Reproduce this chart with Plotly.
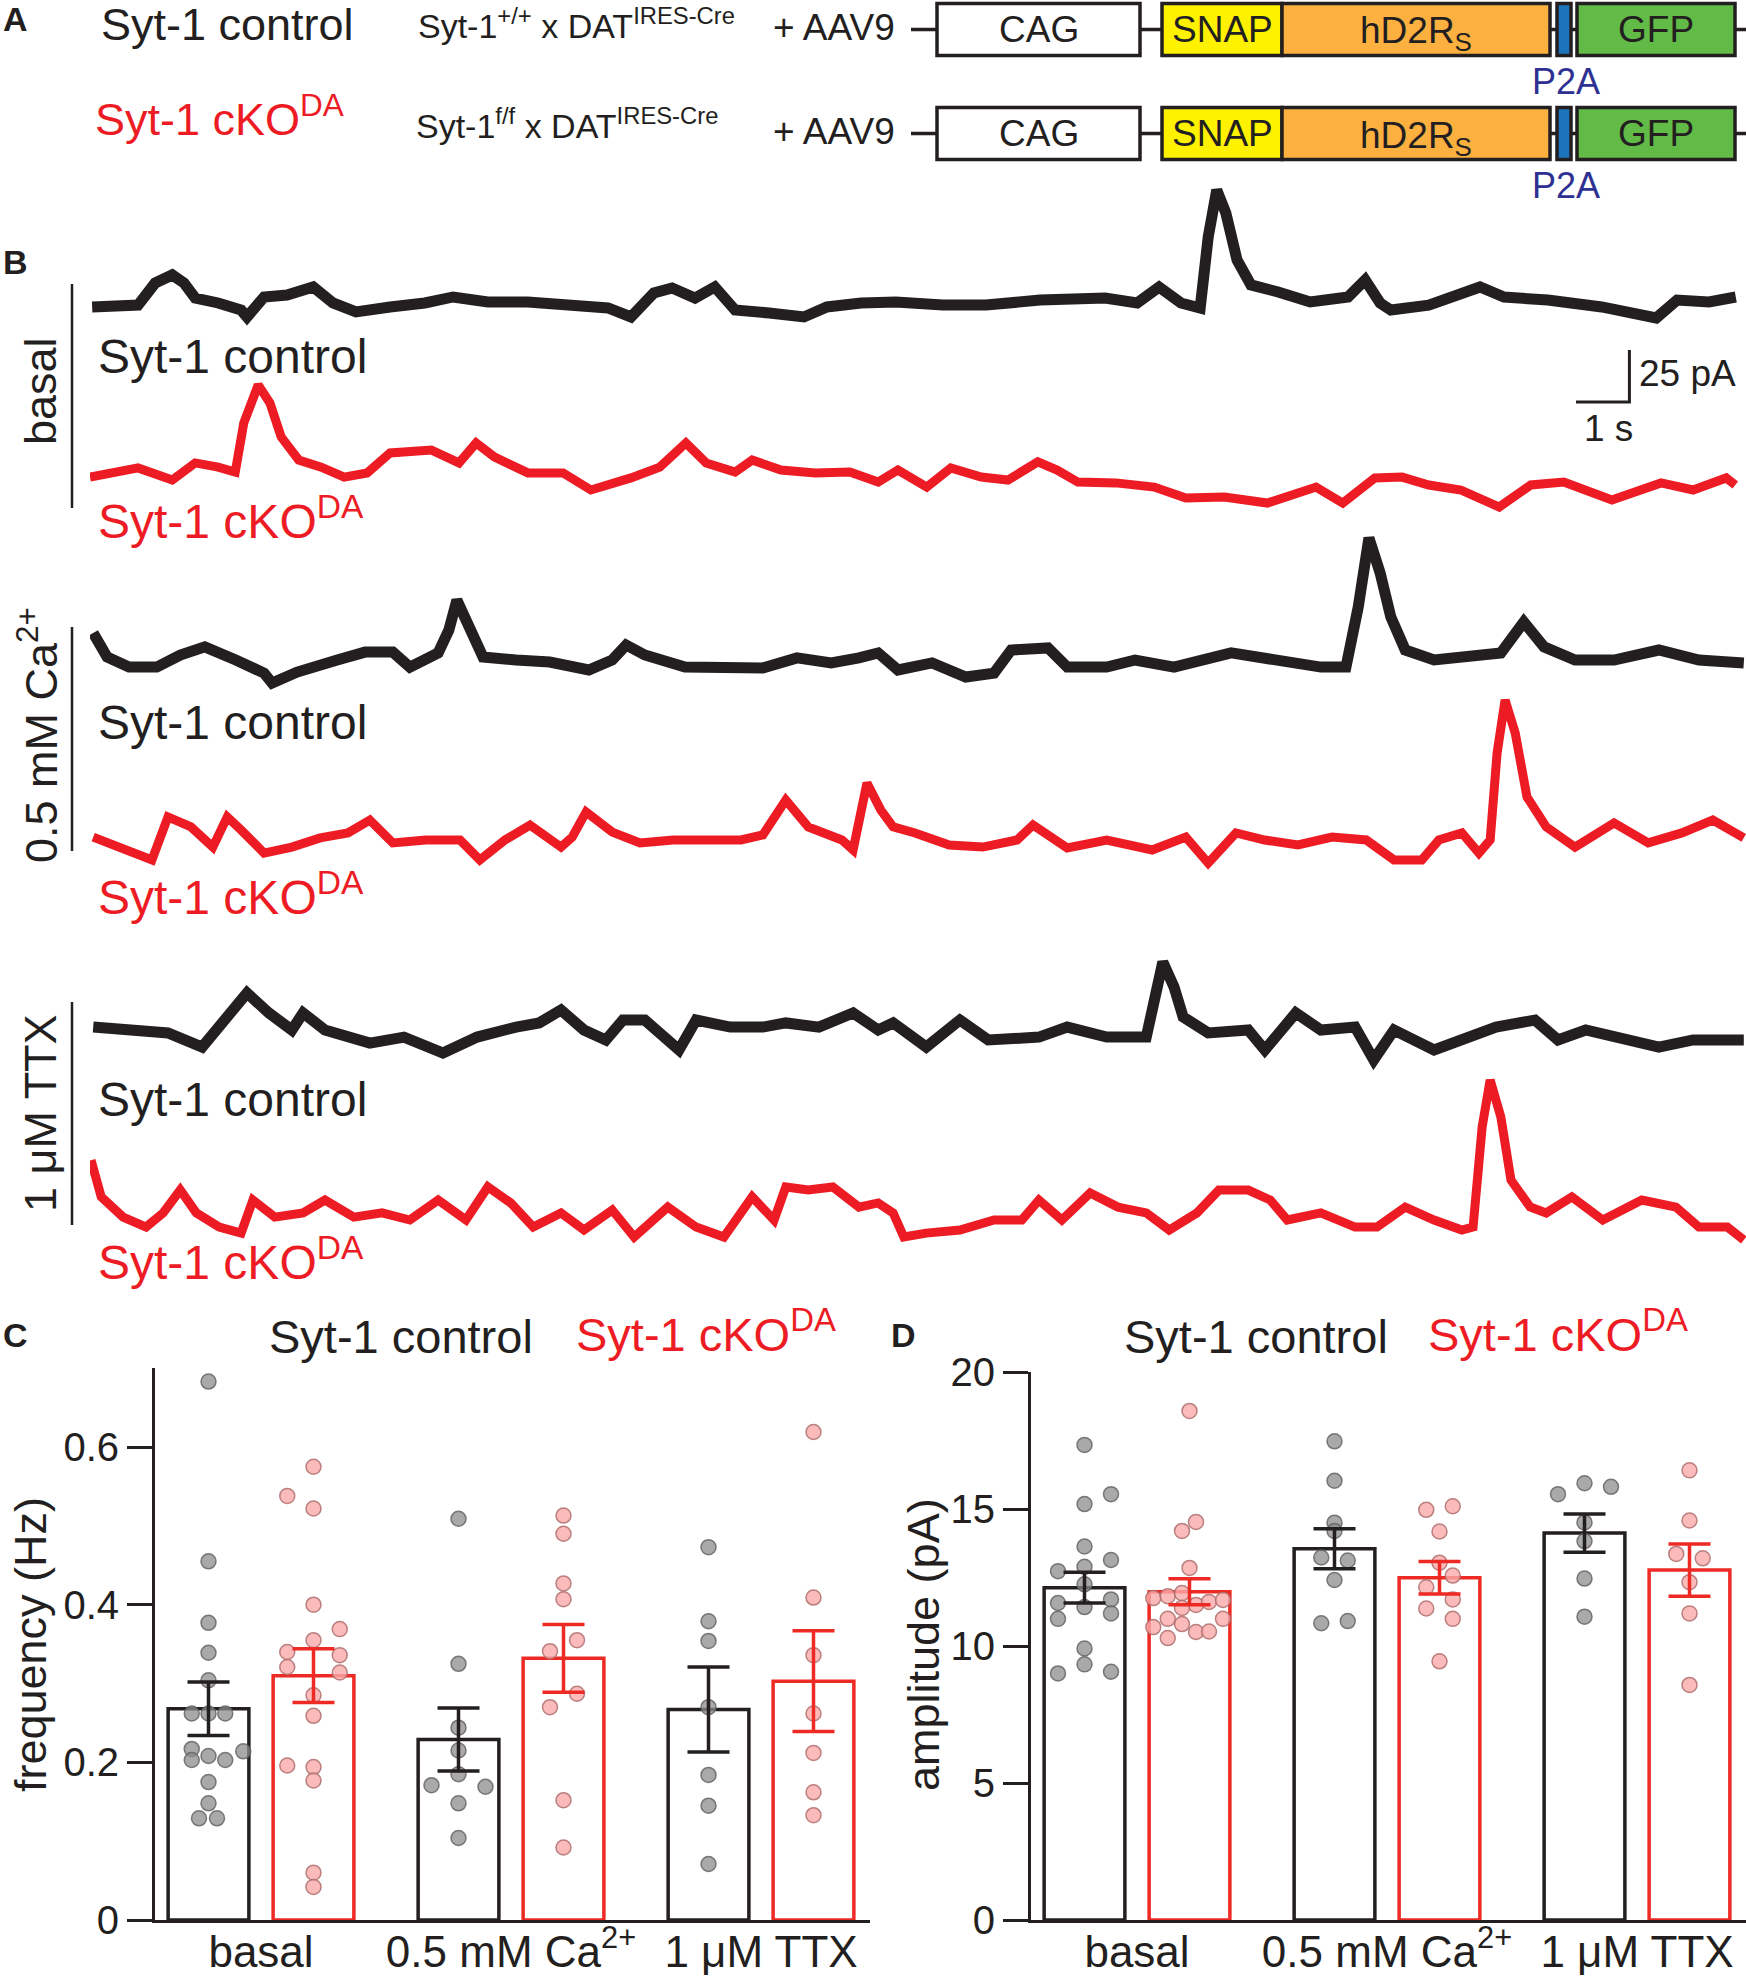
import plotly.graph_objects as go

W, H = 1746, 1976
BLACK = "#231f20"
RED = "#ed1c24"
FONT = "Liberation Sans, Arial, Helvetica, sans-serif"

# ---------------- Panel B: example traces (time in s, current in pA) ----------------
BASAL_CTRL_T = [0.04,0.47,0.90,1.22,1.54,1.76,1.97,2.40,2.83,2.94, 3.26,3.69,4.18,4.55,4.98,5.62,6.27,6.80,7.45,8.20,
                9.06,9.70,10.13,10.56,10.90,11.33,11.70,12.08,12.72,13.37, 13.80,14.44,15.09,15.97,16.78,17.79,19.01,19.61,20.02,20.43,
                20.79,20.94,21.10,21.27,21.48,21.74,22.25,22.85,23.56,23.88, 24.16,24.36,25.07,26.03,26.48,27.30,28.31,29.33,29.72,30.32,
                30.82]
BASAL_CTRL_PA = [-1.9,-1.9,-1.0,9.6,13.5,9.6,2.4,0,-3.4,-6.7, 2.9,3.8,7.7,0,-4.3,-1.9,0,2.9,0.5,0.5,
                 -1.0,-2.4,-6.7,4.8,7.2,2.4,7.7,-3.4,-4.8,-6.7, -1.9,0,0.5,-1.0,-1.0,1.4,2.4,0,7.7,0,
                 -2.4,31.7,54.3,43.3,20.7,8.7,5.3,0.5,2.9,11.1, 0,-3.4,-1.0,7.7,2.9,1.4,-1.9,-7.2,1.4,0.5,
                 2.9]
BASAL_CKO_T = [0.00,0.47,0.90,1.54,1.97,2.40,2.72,2.88,3.15,3.37, 3.58,3.91,4.33,4.76,5.19,5.62,6.39,6.91,7.23,7.57,
               8.20,8.86,9.38,10.13,10.67,11.16,11.54,12.08,12.40,12.94, 13.58,14.23,14.76,15.13,15.67,16.12,16.69,17.19,17.75,18.11,
               18.50,19.21,19.93,20.52,21.24,22.05,22.96,23.46,24.06,24.57, 25.07,25.67,26.39,26.98,27.60,28.50,29.42,30.02,30.64,30.81]
BASAL_CKO_PA = [-1.0,1.4,3.4,-2.4,5.8,3.8,1.4,25.0,43.3,34.6, 18.3,7.2,3.8,-1.0,1.0,10.6,12.0,5.8,15.4,8.7,
                1.0,1.0,-7.2,-1.4,3.8,15.4,5.8,1.4,7.2,2.4, 1.0,1.4,-3.4,2.4,-5.8,3.4,-1.0,-2.4,6.3,2.4,
                -3.4,-3.8,-5.8,-11.1,-10.6,-13.5,-5.8,-13.5,-1.4,-1.0, -4.8,-7.2,-15.4,-4.8,-3.4,-12.0,-3.8,-7.2,-1.4,-4.8]
CA_CTRL_T = [0.06,0.32,0.73,1.25,1.69,2.15,2.73,3.26,3.41,3.88, 4.63,5.15,5.67,5.99,6.52,6.72,6.87,7.10,7.36,7.98,
             8.61,9.34,9.78,10.04,10.39,11.14,11.99,12.60,13.24,13.88, 14.40,14.76,15.13,15.77,16.40,16.93,17.25,17.94,18.30,19.04,
             19.57,20.30,21.37,22.21,23.05,23.52,23.75,23.95,24.16,24.36, 24.63,25.17,25.81,26.42,26.85,27.23,27.81,28.54,29.38,30.13,
             30.97]
CA_CTRL_PA = [13.0,1.4,-3.4,-3.4,2.4,6.3,0,-6.3,-11.1,-5.8, 0,3.8,3.8,-3.4,3.4,14.4,28.8,15.9,1.4,0,
              -1.0,-4.8,0,7.2,2.4,-3.4,-3.4,-3.8,1.0,-1.4, 1.0,3.4,-4.8,-1.4,-8.2,-6.3,4.8,5.8,-3.4,-3.4,
              0,-3.4,3.4,0,-3.4,-3.4,25.5,58.7,41.8,20.7, 4.8,0,1.4,3.4,18.3,6.3,0,0,4.8,0,
              -1.4]
CA_CKO_T = [0.06,0.62,1.16,1.46,1.89,2.30,2.57,2.83,3.26,3.78, 4.31,4.83,5.24,5.67,6.29,6.93,7.30,7.77,8.24,8.82,
            9.03,9.29,9.78,10.30,10.92,11.55,12.19,12.60,13.03,13.45, 14.08,14.29,14.55,14.81,15.04,15.45,16.09,16.72,17.36,17.66,
            18.30,19.04,19.89,20.52,20.94,21.46,22.00,22.62,23.26,23.90, 24.42,24.94,25.26,25.69,26.01,26.22,26.35,26.50,26.69,26.91,
            27.27,27.81,28.54,29.18,29.81,30.39,30.97]
CA_CKO_PA = [1.4,-4.8,-9.6,11.1,6.3,-3.4,11.1,4.8,-6.3,-3.4, 1.0,3.4,9.6,-1.4,0,0,-9.6,0,7.2,-3.4,
             1.4,13.5,3.8,-1.4,0,0,0,2.4,19.2,6.3, 0,-4.8,27.4,14.4,6.3,3.4,-2.4,-3.4,0,7.2,
             -3.8,0,-4.8,1.4,-11.1,3.4,0,-2.4,1.4,0, -9.6,-9.6,0,3.4,-6.3,0,41.8,67.3,51.4,20.7,
             6.3,-3.4,8.2,-1.4,3.4,9.6,1.0]
TTX_CTRL_T = [0.06,0.62,1.46,2.10,2.51,2.94,3.35,3.78,3.99,4.40, 5.24,5.88,6.61,7.25,7.98,8.41,8.82,9.25,9.66,9.98,
              10.39,11.03,11.35,11.99,12.60,13.03,13.65,14.29,14.76,15.04, 15.66,16.29,16.82,17.77,18.30,19.04,19.78,19.94,20.09,20.30,
              20.47,20.94,21.69,22.00,22.58,23.05,23.69,24.04,24.42,25.17, 25.79,26.33,27.06,27.49,28.01,28.75,29.38,30.02,30.97]
TTX_CTRL_PA = [1.4,0,-1.4,-8.2,4.8,17.8,8.2,0,8.2,0, -6.3,-3.4,-11.1,-3.4,1.4,3.4,9.6,0,-4.8,4.8,
               4.8,-9.6,4.8,1.4,1.4,3.4,1.4,8.2,0,3.4, -8.2,4.8,-4.8,-3.4,1.4,-3.4,-3.4,14.4,32.7,20.7,
               6.3,-1.4,0,-9.6,8.2,0,1.4,-14.4,0,-9.6, -3.4,1.4,4.8,-4.8,0,-4.8,-8.2,-4.8,-4.8]
TTX_CKO_T = [0.02,0.21,0.62,1.05,1.37,1.69,1.99,2.42,2.83,3.05, 3.46,3.99,4.40,4.94,5.47,5.99,6.52,7.04,7.45,7.88,
             8.30,8.82,9.25,9.78,10.19,10.82,11.35,11.87,12.40,12.81, 13.03,13.45,13.91,14.40,14.76,15.04,15.24,15.66,16.29,16.93,
             17.45,17.77,18.20,18.73,19.25,19.78,20.21,20.73,21.14,21.69, 22.10,22.42,23.05,23.69,24.10,24.63,25.17,25.69,25.90,26.07,
             26.22,26.42,26.61,26.97,27.27,27.75,28.33,29.06,29.70,30.13, 30.66,30.97]
TTX_CKO_PA = [26.4,8.7,-1.0,-5.8,1.0,12.0,1.0,-5.8,-8.7,7.2, -1.0,1.0,7.2,-1.0,1.0,-2.4,7.2,-2.4,13.5,5.8,
              -5.8,1.0,-7.2,2.4,-10.6,3.8,-5.8,-10.6,8.7,-2.4, 13.5,12.0,13.5,3.8,5.8,1.0,-10.6,-8.7,-7.2,-2.4,
              -2.4,7.2,-2.4,10.6,3.8,1.0,-7.2,1.0,12.0,12.0, 7.2,-2.4,1.0,-5.8,-5.8,3.8,-2.4,-7.2,-5.8,42.3,
              64.9,47.1,16.8,3.8,1.0,8.7,-2.4,7.2,3.8,-5.8, -5.8,-12.0]
SCALE_S = 1
SCALE_PA = 25

# ---------------- Panels C / D: summary data ----------------
GROUPS = ["basal", "0.5 mM Ca<sup>2+</sup>", "1 μM TTX"]

FREQ_CTRL_MEAN = [0.268, 0.229, 0.267]
FREQ_CTRL_SEM = [0.034, 0.040, 0.054]
FREQ_CKO_MEAN = [0.310, 0.332, 0.303]
FREQ_CKO_SEM = [0.034, 0.043, 0.064]
FREQ_CTRL_CELLS = [
    [0.683, 0.455, 0.377, 0.339, 0.304, 0.262, 0.262, 0.262, 0.217, 0.214, 0.208, 0.203, 0.203, 0.175, 0.148, 0.129, 0.129],
    [0.509, 0.325, 0.244, 0.215, 0.185, 0.171, 0.169, 0.148, 0.104],
    [0.473, 0.379, 0.354, 0.270, 0.184, 0.145, 0.071],
]
FREQ_CTRL_JIT = [
    [0, 0, 0, 0, 0, -0.067, 0, 0.067, -0.067, 0.139, 0, -0.067, 0.067, 0, 0, -0.038, 0.034],
    [0, 0, 0, 0, 0, -0.108, 0.108, 0, 0],
    [0, 0, 0, 0, 0, 0, 0],
]
FREQ_CKO_CELLS = [
    [0.575, 0.538, 0.522, 0.400, 0.369, 0.355, 0.340, 0.336, 0.321, 0.314, 0.285, 0.259, 0.196, 0.194, 0.177, 0.060, 0.042],
    [0.513, 0.490, 0.427, 0.407, 0.355, 0.341, 0.287, 0.270, 0.152, 0.092],
    [0.619, 0.409, 0.336, 0.262, 0.212, 0.162, 0.133],
]
FREQ_CKO_JIT = [
    [0, -0.105, 0, 0, 0.105, 0, -0.105, 0.105, -0.105, 0.105, 0, 0, -0.105, 0, 0, 0, 0],
    [0, 0, 0, 0, 0.054, -0.054, 0.054, -0.054, 0, 0],
    [0, 0, 0, 0, 0, 0, 0],
]

AMP_CTRL_MEAN = [12.13, 13.55, 14.12]
AMP_CTRL_SEM = [0.56, 0.73, 0.70]
AMP_CKO_MEAN = [11.98, 12.49, 12.77]
AMP_CKO_SEM = [0.47, 0.59, 0.95]
AMP_CTRL_CELLS = [
    [17.34, 15.54, 15.18, 13.63, 13.14, 12.89, 12.73, 12.25, 11.57, 11.70, 11.42, 11.19, 10.99, 9.91, 9.33, 9.00, 9.06],
    [17.47, 16.03, 14.50, 14.20, 13.23, 13.12, 12.41, 10.83, 10.91],
    [15.54, 15.94, 15.81, 14.51, 13.83, 12.46, 11.07],
]
AMP_CTRL_JIT = [
    [0, 0.106, 0, 0, 0.106, 0, -0.106, 0, -0.106, 0.106, 0, 0.106, -0.106, 0, 0, -0.106, 0.106],
    [0, 0, 0, 0, -0.053, 0.053, 0, -0.053, 0.053],
    [-0.106, 0, 0.106, 0, 0, 0, 0],
]
AMP_CKO_CELLS = [
    [18.58, 14.53, 14.20, 12.85, 11.75, 11.82, 11.93, 11.50, 11.61, 11.68, 11.39, 10.99, 10.99, 10.69, 10.80, 10.51, 10.53, 10.29],
    [14.97, 15.10, 14.18, 13.04, 12.14, 12.57, 11.70, 11.37, 10.99, 9.44],
    [16.41, 14.58, 13.36, 13.20, 12.33, 11.19, 8.58],
]
AMP_CKO_JIT = [
    [0, 0.026, -0.03, 0, -0.145, -0.087, -0.03, 0.026, 0.078, 0.134, -0.03, -0.087, 0.134, -0.145, -0.03, 0.026, 0.078, -0.087],
    [-0.053, 0.053, 0, 0, -0.053, 0.053, 0.053, -0.053, 0.053, 0],
    [0, 0, -0.053, 0.053, 0, 0, 0],
]


def px(x):
    return x / W


def py(y):
    return 1 - y / H


fig = go.Figure()
layout = dict(width=W, height=H, margin=dict(l=0, r=0, t=0, b=0, pad=0, autoexpand=False),
              paper_bgcolor="white", plot_bgcolor="rgba(0,0,0,0)", showlegend=False, barmode="overlay",
              font=dict(family=FONT, color=BLACK))

# ---- trace rows ----
PX_PER_S = 53.4
PX_PER_PA = 2.08
T0_PX = 90
T1_PX = 1746
layout["xaxis"] = dict(domain=[px(T0_PX), px(T1_PX)], range=[0, (T1_PX - T0_PX) / PX_PER_S], visible=False, anchor="y")
rows = [
    ("y", 303, BASAL_CTRL_T, BASAL_CTRL_PA, BLACK, 11),
    ("y2", 475, BASAL_CKO_T, BASAL_CKO_PA, RED, 9),
    ("y3", 660, CA_CTRL_T, CA_CTRL_PA, BLACK, 11),
    ("y4", 840, CA_CKO_T, CA_CKO_PA, RED, 9),
    ("y5", 1030, TTX_CTRL_T, TTX_CTRL_PA, BLACK, 11),
    ("y6", 1215, TTX_CKO_T, TTX_CKO_PA, RED, 9),
]
for name, base, t, pa, col, lw in rows:
    key = "yaxis" if name == "y" else "yaxis" + name[1:]
    layout[key] = dict(domain=[py(base + 60), py(base - 200)], range=[-60 / PX_PER_PA, 200 / PX_PER_PA],
                       visible=False, anchor="x")
    fig.add_trace(go.Scatter(x=t, y=pa, mode="lines", line=dict(color=col, width=lw),
                             xaxis="x", yaxis=name, hoverinfo="skip"))

# scale bar on row 2 axes
sb_t0 = (1576 - T0_PX) / PX_PER_S
sb_p0 = (475 - 402) / PX_PER_PA
fig.add_trace(go.Scatter(x=[sb_t0, sb_t0 + SCALE_S, sb_t0 + SCALE_S],
                         y=[sb_p0, sb_p0, sb_p0 + SCALE_PA], mode="lines",
                         line=dict(color=BLACK, width=3), xaxis="x", yaxis="y2", hoverinfo="skip"))

# ---- bar panels ----
OFF = 0.21
BW = 0.323
XR = [-0.424, 2.436]


def bar_panel(xa, ya, means_c, sem_c, means_k, sem_k, cells_c, jit_c, cells_k, jit_k):
    xs_c = [g - OFF for g in range(3)]
    xs_k = [g + OFF for g in range(3)]
    fig.add_trace(go.Bar(x=xs_c, y=means_c, width=BW, marker=dict(color="white", line=dict(color=BLACK, width=3.5)),
                         xaxis=xa, yaxis=ya, hoverinfo="skip"))
    fig.add_trace(go.Bar(x=xs_k, y=means_k, width=BW, marker=dict(color="white", line=dict(color="#ee2a24", width=3.5)),
                         xaxis=xa, yaxis=ya, hoverinfo="skip"))
    dx, dy = [], []
    for g in range(3):
        for v, j in zip(cells_c[g], jit_c[g]):
            dx.append(xs_c[g] + j)
            dy.append(v)
    fig.add_trace(go.Scatter(x=dx, y=dy, mode="markers",
                             marker=dict(size=15, color="rgba(140,140,140,0.75)",
                                         line=dict(color="rgba(95,95,95,0.8)", width=1.5)),
                             xaxis=xa, yaxis=ya, hoverinfo="skip", cliponaxis=False))
    dx, dy = [], []
    for g in range(3):
        for v, j in zip(cells_k[g], jit_k[g]):
            dx.append(xs_k[g] + j)
            dy.append(v)
    fig.add_trace(go.Scatter(x=dx, y=dy, mode="markers",
                             marker=dict(size=15, color="rgba(250,170,170,0.8)",
                                         line=dict(color="rgba(175,110,110,0.85)", width=1.5)),
                             xaxis=xa, yaxis=ya, hoverinfo="skip", cliponaxis=False))
    fig.add_trace(go.Scatter(x=xs_c, y=means_c, mode="markers", marker=dict(size=1, color="rgba(0,0,0,0)"),
                             error_y=dict(type="data", array=sem_c, visible=True, thickness=3.5, width=21, color=BLACK),
                             xaxis=xa, yaxis=ya, hoverinfo="skip"))
    fig.add_trace(go.Scatter(x=xs_k, y=means_k, mode="markers", marker=dict(size=1, color="rgba(0,0,0,0)"),
                             error_y=dict(type="data", array=sem_k, visible=True, thickness=3.5, width=21, color="#ee2a24"),
                             xaxis=xa, yaxis=ya, hoverinfo="skip"))


bar_panel("x2", "y7", FREQ_CTRL_MEAN, FREQ_CTRL_SEM, FREQ_CKO_MEAN, FREQ_CKO_SEM,
          FREQ_CTRL_CELLS, FREQ_CTRL_JIT, FREQ_CKO_CELLS, FREQ_CKO_JIT)
bar_panel("x3", "y8", AMP_CTRL_MEAN, AMP_CTRL_SEM, AMP_CKO_MEAN, AMP_CKO_SEM,
          AMP_CTRL_CELLS, AMP_CTRL_JIT, AMP_CKO_CELLS, AMP_CKO_JIT)

xcommon = dict(range=XR, showline=True, linewidth=3, linecolor=BLACK, ticks="", showgrid=False, zeroline=False,
               tickvals=[0, 1, 2], ticktext=GROUPS, ticklabelstandoff=-9,
               tickfont=dict(size=44, family=FONT, color=BLACK))
ycommon = dict(showline=True, linewidth=3, linecolor=BLACK, ticks="outside", ticklen=25, tickwidth=3,
               tickcolor=BLACK, showgrid=False, zeroline=False, tickfont=dict(size=40, family=FONT, color=BLACK))
layout["xaxis2"] = dict(domain=[px(155), px(870)], anchor="y7", **xcommon)
layout["yaxis7"] = dict(domain=[py(1920), py(1920 - 0.7 * 788.3)], range=[0, 0.7], anchor="x2",
                        tickvals=[0, 0.2, 0.4, 0.6], ticktext=["0", "0.2", "0.4", "0.6"], **ycommon)
layout["xaxis3"] = dict(domain=[px(1031), px(1746)], anchor="y8", **xcommon)
layout["yaxis8"] = dict(domain=[py(1920), py(1372)], range=[0, 20], anchor="x3",
                        tickvals=[0, 5, 10, 15, 20], **ycommon)

# ---- annotations ----
anns = []


def ann(text, x, y, size, color=BLACK, xanchor="left", yanchor="middle", angle=0):
    anns.append(dict(text=text, x=px(x), y=py(y), xref="paper", yref="paper", showarrow=False,
                     xanchor=xanchor, yanchor=yanchor, textangle=angle,
                     font=dict(size=size, color=color, family=FONT)))


# panel letters
ann("<b>A</b>", 15, 19, 34, xanchor="center")
ann("<b>B</b>", 15, 262, 34, xanchor="center")
ann("<b>C</b>", 15, 1335, 34, xanchor="center")
ann("<b>D</b>", 903, 1335, 34, xanchor="center")

# panel A
ann("Syt-1 control", 99, 25, 45)
ann("Syt-1 cKO<sup>DA</sup>", 93, 116, 45, color=RED)
ann("Syt-1<sup>+/+</sup> x DAT<sup>IRES-Cre</sup>", 416, 23, 34)
ann("Syt-1<sup>f/f</sup> x DAT<sup>IRES-Cre</sup>", 414, 124, 34)
ann("+ AAV9", 771, 28, 37)
ann("+ AAV9", 771, 131, 37)

shapes = []
BOXES = [(937, 1140, "white", "CAG"), (1162, 1282, "#fff200", "SNAP"), (1282, 1550, "#fbb040", "hD2R<sub>S</sub>"),
         (1557, 1571, "#1c75bc", ""), (1577, 1735, "#62bb46", "GFP")]
for c in (29.5, 133.5):
    shapes.append(dict(type="line", xref="paper", yref="paper", x0=px(911), x1=px(1746), y0=py(c), y1=py(c),
                       line=dict(color=BLACK, width=3.5)))
    for x0, x1, colr, lab in BOXES:
        shapes.append(dict(type="rect", xref="paper", yref="paper", x0=px(x0), x1=px(x1), y0=py(c + 26), y1=py(c - 26),
                           fillcolor=colr, line=dict(color=BLACK, width=3.5)))
        if lab:
            ann(lab, (x0 + x1) / 2, c + (4 if "sub" in lab else 0), 37, xanchor="center")
    ann("P2A", 1566, c + 52, 36, color="#2e3192", xanchor="center")

# panel B labels
ann("basal", 40, 391, 45, xanchor="center", angle=-90)
ann("0.5 mM Ca<sup>2+</sup>", 38, 735, 45, xanchor="center", angle=-90)
ann("1 μM TTX", 40, 1113, 45, xanchor="center", angle=-90)
for y0, y1 in ((284, 508), (627, 851), (1002, 1225)):
    shapes.append(dict(type="line", xref="paper", yref="paper", x0=px(72), x1=px(72), y0=py(y0), y1=py(y1),
                       line=dict(color=BLACK, width=2.5)))
for y in (357, 722, 1099):
    ann("Syt-1 control", 96, y, 48)
for y in (518, 894, 1259):
    ann("Syt-1 cKO<sup>DA</sup>", 96, y, 48, color=RED)
ann("25 pA", 1637, 374, 37)
ann("1 s", 1608, 428, 37, xanchor="center")

# panel C / D titles
ann("Syt-1 control", 401, 1336, 47, xanchor="center")
ann("Syt-1 cKO<sup>DA</sup>", 574, 1331, 47, color=RED)
ann("frequency (Hz)", 30, 1645, 45, xanchor="center", angle=-90)
ann("Syt-1 control", 1256, 1336, 47, xanchor="center")
ann("Syt-1 cKO<sup>DA</sup>", 1426, 1331, 47, color=RED)
ann("amplitude (pA)", 923, 1645, 45, xanchor="center", angle=-90)

layout["annotations"] = anns
layout["shapes"] = shapes
fig.update_layout(**layout)
fig.write_html("out.html", config={"displayModeBar": False, "staticPlot": True},
               post_script="document.body.style.margin='0px';document.body.style.padding='0px';"
                           "document.body.style.overflow='hidden';")
